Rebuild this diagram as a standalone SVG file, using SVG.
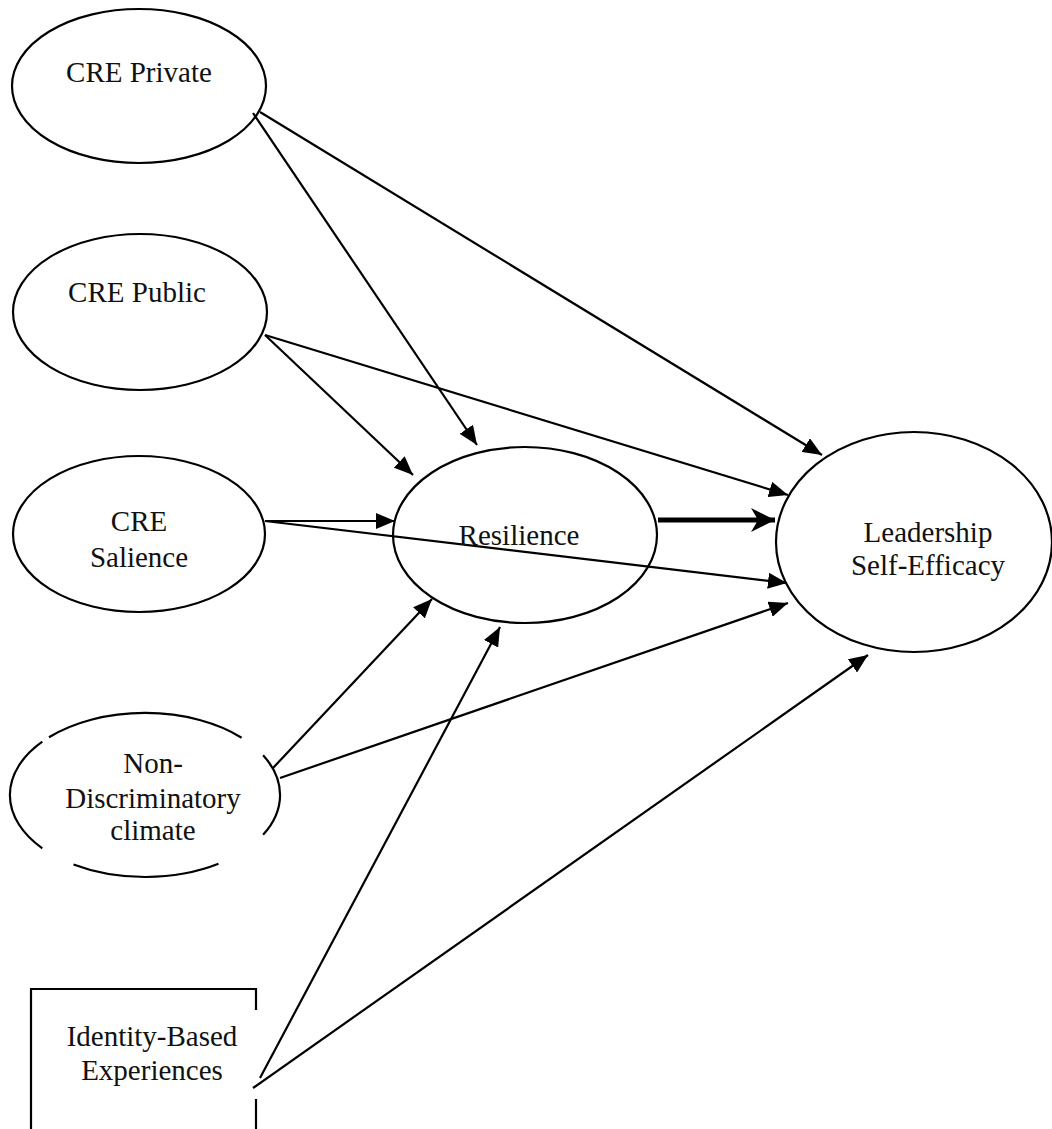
<svg xmlns="http://www.w3.org/2000/svg" width="1052" height="1129" viewBox="0 0 1052 1129">
<style>
.open{fill:none;stroke:#000;stroke-width:2.2}
.lbl{font-size:29px;fill:#111;text-anchor:middle}
.edge{stroke:#000;stroke-width:2.2;fill:none;marker-end:url(#ah)}
.thick{stroke:#000;stroke-width:5;fill:none;marker-end:url(#ahb)}
</style>
<defs>
<marker id="ah" markerUnits="userSpaceOnUse" markerWidth="20" markerHeight="16" refX="19" refY="8" orient="auto">
<path d="M0,0 L19,8 L0,16 z" fill="#000"/>
</marker>
<marker id="ahb" markerUnits="userSpaceOnUse" markerWidth="26" markerHeight="24" refX="24" refY="12" orient="auto">
<path d="M0,0 L24,12 L0,24 L7,12 z" fill="#000"/>
</marker>
</defs>
<rect width="1052" height="1129" fill="#fff"/>
<g id="connectors">
<line class="edge" x1="253" y1="113" x2="477" y2="445"/>
<line class="edge" x1="260" y1="112" x2="822" y2="455"/>
<line class="edge" x1="265" y1="335" x2="413" y2="475"/>
<line class="edge" x1="265" y1="335" x2="788" y2="495"/>
<line class="edge" x1="265" y1="521" x2="395" y2="521"/>
<line class="edge" x1="265" y1="521" x2="787" y2="583"/>
<line class="thick" x1="658" y1="520" x2="775" y2="520"/>
<line class="edge" x1="273" y1="768" x2="432" y2="599"/>
<line class="edge" x1="280" y1="778" x2="788" y2="603"/>
<line class="edge" x1="260" y1="1078" x2="500" y2="627"/>
<line class="edge" x1="253" y1="1088" x2="868" y2="655"/>
</g>
<g font-family="Liberation Serif, DejaVu Serif, serif">
<g id="cre-private">
<ellipse class="open" cx="139" cy="86" rx="127" ry="77"/>
<text class="lbl" x="139" y="82">CRE Private</text>
</g>
<g id="cre-public">
<ellipse class="open" cx="140" cy="312" rx="127" ry="78"/>
<text class="lbl" x="137" y="302">CRE Public</text>
</g>
<g id="cre-salience">
<ellipse class="open" cx="139" cy="534" rx="126" ry="78"/>
<text class="lbl" x="139" y="531">CRE</text>
<text class="lbl" x="139" y="567">Salience</text>
</g>
<g id="resilience">
<ellipse class="open" cx="525" cy="535" rx="132" ry="88"/>
<text class="lbl" x="519" y="545">Resilience</text>
</g>
<g id="leadership">
<ellipse class="open" cx="914" cy="542" rx="138" ry="110"/>
<text class="lbl" x="928" y="542">Leadership</text>
<text class="lbl" x="928" y="575">Self-Efficacy</text>
</g>
<g id="non-discriminatory">
<path class="open" d="M49,737.3 A135,82 0 0 1 241.6,737.7 M263.1,755.2 A135,82 0 0 1 263.1,834.8 M218.5,863.8 A135,82 0 0 1 73.5,864.5 M42.3,848.3 A135,82 0 0 1 42.3,741.7"/>
<text class="lbl" x="153" y="773">Non-</text>
<text class="lbl" x="153" y="808">Discriminatory</text>
<text class="lbl" x="153" y="840">climate</text>
</g>
<g id="identity-based">
<path class="open" d="M256,1010 L256,989 L31,989 L31,1129 M256,1099 L256,1129"/>
<text class="lbl" x="152" y="1046">Identity-Based</text>
<text class="lbl" x="152" y="1080">Experiences</text>
</g>
</g>
</svg>
